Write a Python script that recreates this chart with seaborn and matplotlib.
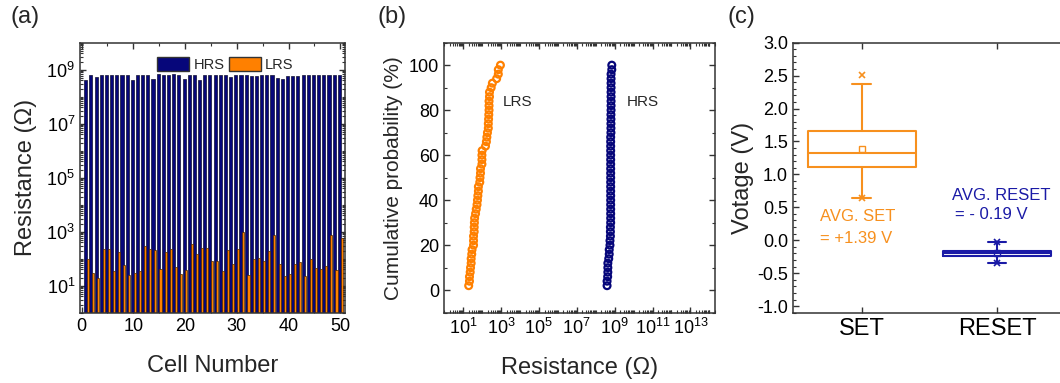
import numpy as np
import pandas as pd
import matplotlib
matplotlib.use('Agg')
import matplotlib.pyplot as plt
import matplotlib.ticker as mticker
from matplotlib.patches import Patch
import seaborn as sns

# panel (a)/(b) data: resistance per cell
cells = np.arange(1, 51)
hrs = np.array([4.3, 6.2, 5.2, 6.5, 6.2, 6.2, 6.5, 6.2, 6.2, 4.0,
                6.5, 6.2, 6.5, 4.4, 7.1, 6.5, 6.2, 7.1, 6.5, 4.4,
                6.2, 6.4, 4.0, 6.5, 6.5, 6.2, 6.5, 6.2, 5.2, 6.4,
                6.2, 6.2, 6.0, 5.7, 6.2, 6.2, 6.4, 4.9, 4.4, 6.0,
                6.0, 5.7, 6.2, 6.2, 6.2, 6.2, 6.4, 6.4, 6.2, 6.2]) * 1e8
lrs = np.array([100, 30, 20, 237, 230, 36, 182, 58, 25, 29,
                36, 307, 224, 217, 41, 172, 237, 50, 27, 39,
                355, 154, 250, 250, 84, 84, 36, 217, 65, 237,
                944, 24, 100, 102, 79, 195, 730, 61, 22, 27,
                65, 77, 22, 100, 46, 40, 55, 730, 39, 596])

# panel (c) box statistics
box_labels = ['SET', 'RESET']
box_q1 = [1.11, -0.245]
box_med = [1.33, -0.20]
box_q3 = [1.66, -0.16]
box_whislo = [0.64, -0.34]
box_whishi = [2.37, -0.03]
box_mean = [1.39, -0.19]
box_extremes = [[2.51, 0.64], [-0.03, -0.34]]

navy = '#06067a'
orange = '#ff8000'
set_col = '#f7901e'
reset_col = '#1a1aa6'

sns.set_style('ticks')
plt.rcParams['font.family'] = ['Liberation Sans', 'DejaVu Sans']
plt.rcParams['mathtext.fontset'] = 'custom'
plt.rcParams['mathtext.rm'] = 'Liberation Sans'
plt.rcParams['mathtext.it'] = 'Liberation Sans:italic'
plt.rcParams['xtick.direction'] = 'in'
plt.rcParams['ytick.direction'] = 'in'
plt.rcParams['xtick.top'] = True
plt.rcParams['ytick.right'] = True
plt.rcParams['axes.edgecolor'] = '#333333'
plt.rcParams['axes.linewidth'] = 1.1

fig = plt.figure(figsize=(10.6, 3.83), dpi=100)
ax1 = fig.add_axes([0.0755, 0.1836, 0.25, 0.705])
ax2 = fig.add_axes([0.4189, 0.1836, 0.2557, 0.705])
ax3 = fig.add_axes([0.7481, 0.1836, 0.2575, 0.705])

# (a) bar chart
ax1.set_yscale('log')
sns.barplot(x=cells - 0.2, y=hrs, native_scale=True, width=0.6, color=navy,
            saturation=1, edgecolor='#101030', linewidth=0.5, ax=ax1)
sns.barplot(x=cells + 0.25, y=lrs, native_scale=True, width=0.4, color=orange,
            saturation=1, edgecolor='#4a2600', linewidth=0.5, ax=ax1)
ax1.set_xlim(-0.3, 50.9)
ax1.set_ylim(1, 1e10)
ax1.xaxis.set_major_locator(mticker.MultipleLocator(10))
ax1.xaxis.set_minor_locator(mticker.MultipleLocator(5))
ax1.set_yticks([1e1, 1e3, 1e5, 1e7, 1e9])
ax1.yaxis.set_minor_locator(mticker.LogLocator(base=10, subs=np.arange(1, 10), numticks=20))
ax1.yaxis.set_minor_formatter(mticker.NullFormatter())
ax1.set_xlabel('Cell Number', fontsize=17, labelpad=15)
ax1.set_ylabel('Resistance (Ω)', fontsize=17, labelpad=7)
ax1.legend(handles=[Patch(facecolor=navy, edgecolor='#333333', label='HRS'),
                    Patch(facecolor=orange, edgecolor='#333333', label='LRS')],
           loc='upper right', bbox_to_anchor=(0.845, 0.985), ncol=2, frameon=False,
           fontsize=10.5, handlelength=2.2, handleheight=1.1, columnspacing=0.3,
           handletextpad=0.3, borderaxespad=0.3)

# (b) cumulative probability
prob = np.arange(1, len(lrs) + 1) / len(lrs) * 100
ax2.set_xscale('log')
sns.scatterplot(x=np.sort(lrs), y=prob, ax=ax2, marker='o', s=24,
                facecolor='none', edgecolor=orange, linewidth=1.6, color=orange)
sns.scatterplot(x=np.sort(hrs), y=prob, ax=ax2, marker='o', s=24,
                facecolor='none', edgecolor=navy, linewidth=1.6, color=navy)
ax2.set_xlim(1.0, 2e14)
ax2.set_ylim(-10, 110)
ax2.set_xticks([1e1, 1e3, 1e5, 1e7, 1e9, 1e11, 1e13])
ax2.xaxis.set_minor_locator(mticker.LogLocator(base=10, subs=np.arange(1, 10), numticks=30))
ax2.xaxis.set_minor_formatter(mticker.NullFormatter())
ax2.yaxis.set_major_locator(mticker.MultipleLocator(20))
ax2.yaxis.set_minor_locator(mticker.MultipleLocator(10))
ax2.text(1.2e3, 82, 'LRS', fontsize=11)
ax2.text(4.5e9, 82, 'HRS', fontsize=11)
ax2.set_xlabel('Resistance (Ω)', fontsize=17, labelpad=14)
ax2.set_ylabel('Cumulative probability (%)', fontsize=15, labelpad=4)

# (c) box plot
stats = []
for i, lab in enumerate(box_labels):
    stats.append(dict(label=lab, q1=box_q1[i], med=box_med[i], q3=box_q3[i],
                      whislo=box_whislo[i], whishi=box_whishi[i],
                      mean=box_mean[i], fliers=box_extremes[i]))
art = ax3.bxp(stats, positions=[0, 1], widths=0.8, showmeans=True,
              capwidths=0.14, manage_ticks=False)
for i, col in enumerate([set_col, reset_col]):
    for key in ['boxes', 'medians', 'whiskers', 'caps']:
        n = 2 if key in ('whiskers', 'caps') else 1
        for line in art[key][i * n:(i + 1) * n]:
            line.set_color(col)
            line.set_linewidth(1.5)
    art['means'][i].set(marker='s', markerfacecolor='none', markeredgecolor=col,
                        markersize=4, markeredgewidth=1.0)
    art['fliers'][i].set(marker='x', markeredgecolor=col, markersize=4,
                         markeredgewidth=1.2)
ax3.set_xlim(-0.51, 1.51)
ax3.set_ylim(-1.1, 3.0)
ax3.set_xticks([0, 1])
ax3.set_xticklabels(box_labels, fontsize=17)
ax3.yaxis.set_major_locator(mticker.MultipleLocator(0.5))
ax3.yaxis.set_minor_locator(mticker.MultipleLocator(0.1))
ax3.yaxis.set_major_formatter(mticker.FormatStrFormatter('%.1f'))
ax3.set_ylabel('Votage (V)', fontsize=17, labelpad=2)
ax3.text(-0.31, 0.36, 'AVG. SET', color=set_col, fontsize=12, va='center')
ax3.text(-0.31, 0.02, '= +1.39 V', color=set_col, fontsize=12, va='center')
ax3.text(0.67, 0.68, 'AVG. RESET', color=reset_col, fontsize=12, va='center')
ax3.text(0.69, 0.39, '= - 0.19 V', color=reset_col, fontsize=12, va='center')

for ax in (ax1, ax2, ax3):
    ax.tick_params(which='major', length=4, width=1, labelsize=13, colors='#333333',
                   labelcolor='black')
    ax.tick_params(which='minor', length=2, width=0.8, colors='#333333')
    ax.grid(False)
ax3.tick_params(axis='x', which='major', labelsize=17)
ax3.tick_params(axis='x', which='minor', length=0)

fig.text(0.01, 0.985, '(a)', fontsize=17, va='top')
fig.text(0.356, 0.985, '(b)', fontsize=17, va='top')
fig.text(0.686, 0.985, '(c)', fontsize=17, va='top')

fig.savefig('out.png', dpi=100)
